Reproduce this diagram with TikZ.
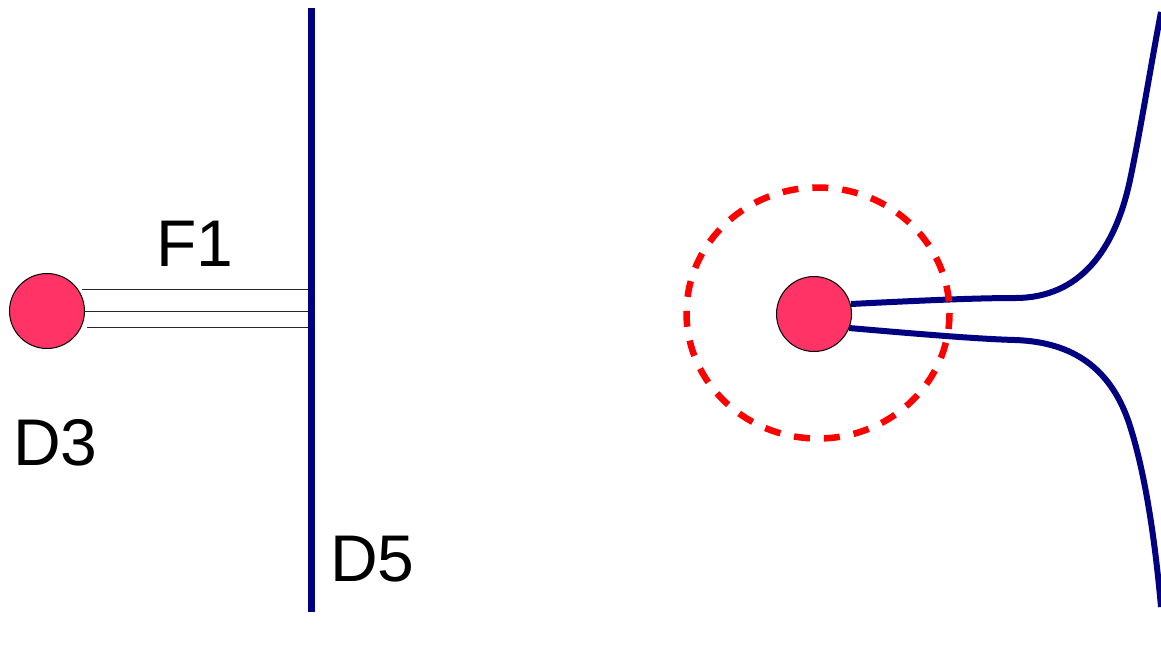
\documentclass[tikz,border=0pt]{standalone}
\usepackage{fontspec}
\setmainfont{Liberation Sans}
\definecolor{ballred}{RGB}{255,51,102}
\definecolor{wallblue}{RGB}{0,0,128}
\definecolor{ringred}{RGB}{255,0,0}
\begin{document}
\begin{tikzpicture}[x=1pt,y=-1pt,
  ball/.style={circle,draw=black,line width=1pt,fill=ballred,minimum size=75pt,inner sep=0pt},
  wall/.style={draw=wallblue,line width=7.5pt},
  strand/.style={draw=wallblue,line width=6pt},
  ring/.style={draw=ringred,line width=6.5pt,dash pattern=on 16pt off 14pt},
  thread/.style={draw=black!85,line width=1pt},
  lbl/.style={font=\fontsize{66}{66}\selectfont,inner sep=0pt,anchor=base west}]
\useasboundingbox (0,0) rectangle (1161,649);
\clip (0,0) rectangle (1161,649);

% left: particle tied to the wall by three threads
\node[ball] (d3) at (47,311) {};
\coordinate (wtop) at (311.5,8);
\coordinate (wbot) at (311.5,612);
\draw[wall] (wtop) -- (wbot);
\coordinate (t1a) at (82,289.3);  \coordinate (t1b) at (308,289.3);
\coordinate (t2a) at (84,311);    \coordinate (t2b) at (308,311);
\coordinate (t3a) at (87,327.7);  \coordinate (t3b) at (308,327.7);
\draw[thread] (t1a) -- (t1b);
\draw[thread] (t2a) -- (t2b);
\draw[thread] (t3a) -- (t3b);
\node[lbl] (f1) at (156.4,266.7) {F1};
\node[lbl] (d3l) at (12.8,465) {D3};
\node[lbl] (d5l) at (329.8,581.7) {D5};

% right: particle with two strands bending away, inside a dashed ring
\coordinate (u0) at (851,304);
\coordinate (l0) at (849,328);
\coordinate (uend) at (1161,12);
\coordinate (lend) at (1161,607);
\draw[strand] (u0) .. controls (930,300) and (980,298) .. (1015,298)
  .. controls (1080,298) and (1115,250) .. (1130,180)
  .. controls (1140,133) and (1150,70) .. (uend);
\draw[strand] (l0) .. controls (930,335) and (980,339) .. (1015,340)
  .. controls (1075,342) and (1110,370) .. (1128,420)
  .. controls (1145,470) and (1155,540) .. (lend);
\draw[ring] (818,313) ellipse [x radius=131.5, y radius=125.5];
\node[ball] (p) at (814,314) {};
\end{tikzpicture}
\end{document}
